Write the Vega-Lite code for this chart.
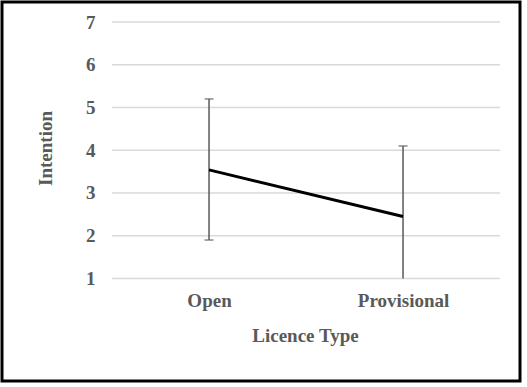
{
  "$schema": "https://vega.github.io/schema/vega-lite/v6.json",
  "width": 518,
  "height": 379,
  "autosize": {"type": "none"},
  "padding": {"left": 2, "top": 2, "right": 7, "bottom": 6},
  "background": "white",
  "config": {
    "view": {"stroke": "black", "strokeWidth": 3},
    "font": "Liberation Serif",
    "axis": {
      "labelFont": "Liberation Serif",
      "titleFont": "Liberation Serif",
      "labelFontWeight": "bold",
      "titleFontWeight": "bold",
      "labelColor": "#595959",
      "titleColor": "#595959",
      "labelFontSize": 19,
      "titleFontSize": 19,
      "domain": false,
      "ticks": false,
      "grid": false
    }
  },
  "data": {
    "values": [
      {"licence": "Open", "mean": 3.54, "lower": 1.9, "upper": 5.2},
      {"licence": "Provisional", "mean": 2.45, "lower": 1.0, "upper": 4.1}
    ]
  },
  "resolve": {"scale": {"x": "independent"}},
  "layer": [
    {
      "data": {"values": [{"g": 1}, {"g": 2}, {"g": 3}, {"g": 4}, {"g": 5}, {"g": 6}, {"g": 7}]},
      "mark": {"type": "rule", "color": "#d9d9d9", "strokeWidth": 1.5},
      "encoding": {
        "y": {"field": "g", "type": "quantitative", "scale": {"domain": [-1.398, 7.468], "nice": false, "zero": false},
          "axis": {"values": [1, 2, 3, 4, 5, 6, 7], "orient": "left", "offset": -110, "labelPadding": 17,
            "title": "Intention", "titleX": -67, "titleY": 146, "titleBaseline": "middle", "titleAngle": -90}},
        "x": {"datum": 0, "type": "quantitative", "scale": {"domain": [-0.2835, 1.0515], "nice": false, "zero": false}, "axis": null},
        "x2": {"datum": 1}
      }
    },
    {
      "layer": [
        {
          "mark": {"type": "rule", "color": "#595959", "strokeWidth": 1.5},
          "encoding": {
            "y": {"field": "lower", "type": "quantitative"},
            "y2": {"field": "upper"}
          }
        },
        {
          "mark": {"type": "tick", "color": "#595959", "size": 9, "thickness": 1.5},
          "encoding": {"y": {"field": "upper", "type": "quantitative"}}
        },
        {
          "transform": [{"filter": "datum.lower > 1"}],
          "mark": {"type": "tick", "color": "#595959", "size": 9, "thickness": 1.5},
          "encoding": {"y": {"field": "lower", "type": "quantitative"}}
        },
        {
          "mark": {"type": "line", "color": "black", "strokeWidth": 3},
          "encoding": {"y": {"field": "mean", "type": "quantitative"}}
        }
      ],
      "encoding": {
        "x": {"field": "licence", "type": "nominal",
          "scale": {"type": "point", "padding": 0.835, "align": 0.639},
          "axis": {"orient": "bottom", "offset": -103, "labelAngle": 0, "labelPadding": 13,
            "title": "Licence Type", "titleX": 303, "titleY": 57, "titleBaseline": "middle"}}
      }
    }
  ]
}
